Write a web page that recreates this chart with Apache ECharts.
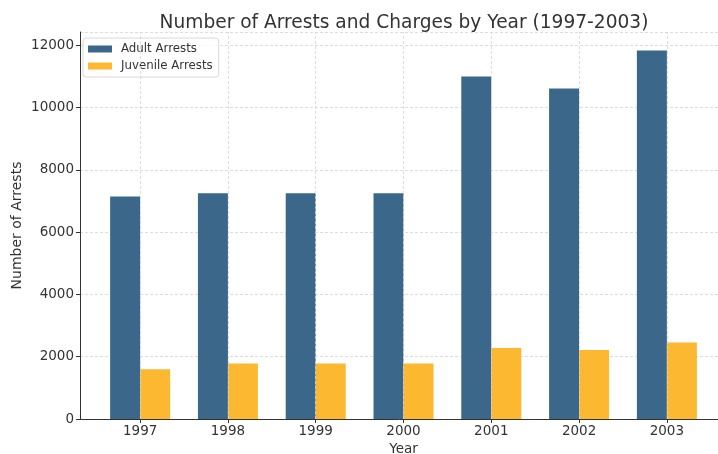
<!DOCTYPE html>
<html><head><meta charset="utf-8">
<script src="https://cdn.jsdelivr.net/npm/echarts@6/dist/echarts.min.js"></script>
<style>html,body{margin:0;padding:0;background:#fff}#c{width:718px;height:454px}</style>
</head><body><div id="c"></div>
<script>
const years = ['1997','1998','1999','2000','2001','2002','2003'];
const adultArrests = [7150, 7250, 7250, 7250, 11000, 10620, 11840];
const juvenileArrests = [1600, 1780, 1780, 1780, 2280, 2220, 2455];
const yTicks = [0, 2000, 4000, 6000, 8000, 10000, 12000];

const idx = years.map((_, i) => i);
const font = 'DejaVu Sans';
const chart = echarts.init(document.getElementById('c'));
chart.setOption({
  animation: false,
  textStyle: {fontFamily: font},
  title: {
    text: 'Number of Arrests and Charges by Year (1997-2003)',
    left: 399, top: 9, textAlign: 'center',
    textStyle: {fontFamily: font, fontSize: 18.6, fontWeight: 'normal', color: '#333'}
  },
  legend: {
    left: 83, top: 38, orient: 'vertical',
    icon: 'rect',
    itemWidth: 24, itemHeight: 7, itemGap: 5,
    padding: [5, 6, 5, 5],
    borderColor: '#d8d8d8', borderWidth: 1, borderRadius: 3,
    backgroundColor: 'rgba(255,255,255,0.8)',
    textStyle: {fontFamily: font, fontSize: 11.8, color: '#333', padding: [0, 0, 0, 4]},
    data: ['Adult Arrests', 'Juvenile Arrests']
  },
  grid: {left: 80, right: -9, top: 32, bottom: 35, containLabel: false, outerBoundsMode: 'none'},
  xAxis: {
    type: 'value', min: -0.685, max: 6.685,
    name: 'Year', nameLocation: 'middle', nameGap: 21,
    nameTextStyle: {fontFamily: font, fontSize: 13.5, color: '#333'},
    axisLine: {show: true, onZero: false, lineStyle: {color: '#333', width: 1}},
    axisTick: {show: true, length: 4, customValues: idx, lineStyle: {color: '#333'}},
    axisLabel: {customValues: idx, formatter: v => years[Math.round(v)] || '', fontFamily: font, fontSize: 13.5, color: '#333', margin: 5},
    splitLine: {show: false}
  },
  yAxis: {
    type: 'value', min: 0, max: 12432, interval: 2000,
    name: 'Number of Arrests', nameLocation: 'middle', nameGap: 56, nameMoveOverlap: false,
    nameTextStyle: {fontFamily: font, fontSize: 14, color: '#333'},
    axisLine: {show: true, onZero: false, lineStyle: {color: '#333', width: 1}},
    axisTick: {show: true, length: 4, lineStyle: {color: '#333'}},
    axisLabel: {formatter: v => String(v), fontFamily: font, fontSize: 13.5, color: '#333', margin: 6, showMaxLabel: false},
    splitLine: {show: true, lineStyle: {color: '#d4d4d4', type: [3, 2], width: 0.8}}
  },
  series: [
    {
      type: 'scatter', data: [], z: 0, silent: true,
      markLine: {
        silent: true, symbol: 'none', label: {show: false},
        lineStyle: {color: '#d4d4d4', type: [3, 2], width: 0.8},
        data: idx.map(i => ({xAxis: i}))
      }
    },
    {
      name: 'Adult Arrests', type: 'bar', z: 2,
      barWidth: 30, barGap: '0%',
      itemStyle: {color: '#3b678b'},
      data: adultArrests.map((v, i) => [i, v])
    },
    {
      name: 'Juvenile Arrests', type: 'bar', z: 2,
      barWidth: 30, barGap: '0%',
      itemStyle: {color: '#fbb830'},
      data: juvenileArrests.map((v, i) => [i, v])
    }
  ]
});
</script></body></html>
